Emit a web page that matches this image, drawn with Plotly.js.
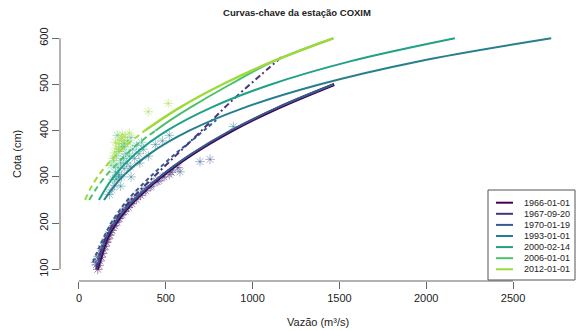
<!DOCTYPE html>
<html><head><meta charset="utf-8">
<script src="https://cdn.plot.ly/plotly-3.0.1.min.js"></script>
<style>body{margin:0;background:#fff}#chart{width:577px;height:331px}</style>
</head><body><div id="chart"></div>
<script>
// ---- data ----
const seriesNames = ['1966-01-01','1967-09-20','1970-01-19','1993-01-01','2000-02-14','2006-01-01','2012-01-01'];
const seriesColors = ['#440154','#46337E','#365C8D','#277F8E','#1FA187','#4AC16D','#9FDA3A'];
const xTicks = [0,500,1000,1500,2000,2500];
const yTicks = [100,200,300,400,500,600];

// rating curves (Vazão Q, Cota H)
const H_1966 = [100,125,150,175,200,228,250,300,350,400,450,500];
const Q_1966 = [105,125,145,172,212,268,323,472,657,882,1152,1470];
const H_1970 = [100,125,150,175,200,228,250,300,350,400,450,500];
const Q_1970 = [100,120,140,166,205,262,316,464,648,872,1142,1465];
const H_1970d = [115,150,200,250,300,350,385,423];
const Q_1970d = [80,120,185,280,410,555,670,790];
const H_1967 = [100,150,200,250,300,350,387,425,463,510,560];
const Q_1967 = [100,135,198,298,430,568,670,772,875,1015,1168];
const H_1993 = [250,300,350,400,450,500,550,600];
const Q_1993 = [144,249,407,635,953,1384,1954,2720];
const H_2000 = [250,300,350,400,450,500,550,600];
const Q_2000 = [115,199,325,507,761,1105,1561,2165];
const H_2006d = [250,275,300,325,350,375,400];
const Q_2006d = [59,100,150,210,275,350,440];
const H_2006 = [400,425,450,500,550,600];
const Q_2006 = [440,535,640,870,1120,1465];
const H_2012d = [250,275,300,325,350,375,400];
const Q_2012d = [35,66,107,159,221,294,378];
const H_2012 = [400,450,500,550,600];
const Q_2012 = [378,580,825,1116,1465];

// observations (asterisks)
const obsQ_1966 = [108,115,120,128,135,142,150,158,168,178,190,205,218,232,248,265,285,305,330,355,385,415,450,490,530,570];
const obsH_1966 = [100,108,118,126,134,142,150,158,166,174,184,194,202,210,218,226,234,242,252,260,270,280,290,300,310,320];
const obsQ_1967 = [100,112,125,140,160,180,200,225,255,290,320,365,410,460,520];
const obsH_1967 = [110,122,135,150,165,180,195,210,225,240,252,265,278,292,305];
const obsQ_1970 = [95,110,130,150,170,195,215,240,270,300,340,380,430,480,540,582,697,755];
const obsH_1970 = [115,128,145,160,175,192,205,218,232,248,262,275,288,300,315,311,333,338];
const obsQ_1993 = [175,190,205,215,230,245,260,275,295,320,345,370,400,440,480,520,889,240,300,350];
const obsH_1993 = [262,272,282,295,305,300,318,330,322,340,350,360,345,370,378,390,409,280,300,330];
const obsQ_2000 = [195,210,225,240,255,270,290,310,330,360,260,230];
const obsH_2000 = [295,310,320,330,340,350,345,360,368,375,365,300];
const obsQ_2006 = [185,200,215,230,245,260,280,300,220];
const obsH_2006 = [325,335,345,355,365,372,378,385,390];
const obsQ_2012 = [195,205,215,225,235,245,255,265,275,290,210,230,250,399,514];
const obsH_2012 = [340,352,362,372,380,385,378,388,370,395,375,360,392,441,459];

// ---- drawing ----
function rgba(hex, a){const n=parseInt(hex.slice(1),16);return `rgba(${n>>16&255},${n>>8&255},${n&255},${a})`;}
const obs = [[obsQ_1966,obsH_1966,0],[obsQ_1967,obsH_1967,1],[obsQ_1970,obsH_1970,2],[obsQ_1993,obsH_1993,3],[obsQ_2000,obsH_2000,4],[obsQ_2006,obsH_2006,5],[obsQ_2012,obsH_2012,6]];
const traces = [];
obs.forEach(([q,h,i])=>traces.push({x:q,y:h,type:'scatter',mode:'markers',hoverinfo:'skip',
  marker:{symbol:'asterisk-open',size:8,color:rgba(seriesColors[i],0.45),line:{color:rgba(seriesColors[i],0.45),width:1}}}));
const curves = [
  [Q_1966,H_1966,0,'solid',3],
  [Q_1970,H_1970,2,'solid',2],
  [Q_1970d,H_1970d,2,'4px,3px',2],
  [Q_1967,H_1967,1,'6px,3px,2px,3px',2],
  [Q_1993,H_1993,3,'solid',2],
  [Q_2000,H_2000,4,'solid',2],
  [Q_2006d,H_2006d,5,'6px,4px',2],
  [Q_2006,H_2006,5,'solid',2],
  [Q_2012d,H_2012d,6,'6px,4px',2],
  [Q_2012,H_2012,6,'solid',2.5]
];
curves.forEach(([q,h,i,d,w])=>traces.push({x:q,y:h,type:'scatter',mode:'lines',hoverinfo:'skip',
  line:{color:seriesColors[i],width:w,dash:d,shape:'spline'}}));

// plot area in pixels
const L=60,R=575,T=28,B=281;
const px=x=>(x-L)/(R-L), py=y=>(B-y)/(B-T);
const font='Liberation Sans, Arial, sans-serif';
const shapes=[
  {type:'line',xref:'x',yref:'paper',x0:xTicks[0],x1:xTicks[xTicks.length-1],y0:0,y1:0,line:{color:'#666',width:1}},
  {type:'line',xref:'paper',yref:'y',x0:0,x1:0,y0:yTicks[0],y1:yTicks[yTicks.length-1],line:{color:'#666',width:1}},
  {type:'rect',xref:'paper',yref:'paper',x0:px(488),x1:px(575),y0:py(280),y1:py(190),line:{color:'#555',width:1},fillcolor:'white'}
];
const annotations=[
  {text:'Vazão (m³/s)',xref:'paper',yref:'paper',x:0.5,y:py(322),showarrow:false,xanchor:'center',yanchor:'middle',font:{family:font,size:11,color:'#222'}},
  {text:'Cota (cm)',xref:'paper',yref:'paper',x:px(17),y:py(154),textangle:-90,showarrow:false,xanchor:'center',yanchor:'middle',font:{family:font,size:11,color:'#222'}}
];
seriesNames.forEach((nm,i)=>{
  const yy=202.7+i*11.1;
  shapes.push({type:'line',xref:'paper',yref:'paper',x0:px(496),x1:px(513),y0:py(yy),y1:py(yy),line:{color:seriesColors[i],width:2}});
  annotations.push({text:nm,xref:'paper',yref:'paper',x:px(522),y:py(yy),showarrow:false,xanchor:'left',yanchor:'middle',font:{family:font,size:9,color:'#222'}});
});

const layout={
  width:577,height:331,margin:{l:L,r:577-R,t:T,b:331-B},
  paper_bgcolor:'white',plot_bgcolor:'white',showlegend:false,
  title:{text:'<b>Curvas-chave da estação COXIM</b>',font:{family:font,size:9.5,color:'#222'},xref:'container',yref:'container',x:297/577,y:1-13/331,xanchor:'center',yanchor:'middle'},
  xaxis:{range:[-109.4,2857],tickvals:xTicks,ticks:'outside',ticklen:7,tickcolor:'#666',showgrid:false,zeroline:false,showline:false,
    tickfont:{family:font,size:11,color:'#222'}},
  yaxis:{range:[74.7,622.3],tickvals:yTicks,ticks:'outside',ticklen:7,tickcolor:'#666',showgrid:false,zeroline:false,showline:false,tickangle:-90,
    tickfont:{family:font,size:11,color:'#222'}},
  shapes:shapes,annotations:annotations
};
Plotly.newPlot('chart',traces,layout,{staticPlot:true,displayModeBar:false});
</script></body></html>
